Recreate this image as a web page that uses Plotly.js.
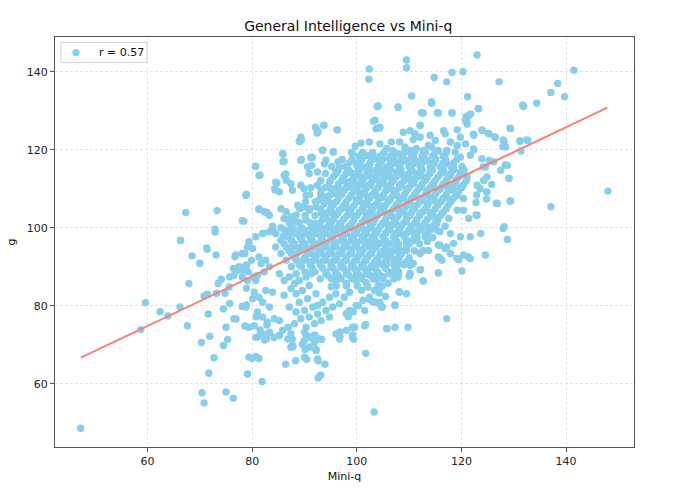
<!DOCTYPE html>
<html>
<head>
<meta charset="utf-8">
<script src="https://cdn.plot.ly/plotly-3.0.1.min.js"></script>
<style>html,body{margin:0;padding:0;background:#fff;}#chart{width:680px;height:489px;}</style>
</head>
<body>
<div id="chart"></div>
<script>
// [Mini-q, g] pairs, grouped by region
const leftRegion = [
[67.3,103.9],[73.3,104.4],[66.3,96.8],[72.9,99.6],[72.9,98.9],[78.4,101.7],[78.9,108.6],[80.7,115.8],[81.5,113.5],[81.3,104.7],[82.8,103.9],[71.3,94.8],[82.1,98.6],[84.0,99.4],
[47.2,48.6],[58.7,73.9],[59.6,80.8],[62.4,78.5],[63.9,77.4],[66.2,79.7],[66.3,96.7],[67.6,74.9],[67.9,85.7],[68.5,92.8],[70.0,90.9],[71.4,94.5],[73.1,93.0],[70.3,70.6],[71.9,72.2],[71.6,77.9],[70.8,82.5],[71.4,83.0],[72.7,66.7],[71.7,62.7],[70.4,57.7],[70.8,55.1],[75.0,57.9],[76.4,56.3],[75.0,74.5],[75.3,71.4],[74.5,69.8],[74.5,79.2],[75.7,80.6],[73.2,83.2],[74.8,83.2],[73.5,85.7],[74.1,86.8],[75.7,87.4],[76.7,92.6],[77.1,89.0],[76.4,89.6],[78.6,93.4],[78.0,89.3],[79.0,90.4],[79.9,91.7],[79.2,88.7],[80.2,87.4],[76.9,76.6],[78.9,84.5],[78.9,80.2],[78.6,74.8],[80.0,66.5],[81.3,66.5],[79.1,62.5],[81.9,60.6],[80.8,77.2],[81.5,73.8],[82.8,75.1],[82.8,71.6],[82.4,71.2],[81.1,72.1]
];
const lowerRegion = [
[86.4,65.0],[88.3,65.9],[87.8,69.5],[87.7,71.4],[86.9,74.5],[90.4,66.3],[92.6,65.9],[93.9,65.0],[92.2,68.8],[93.3,71.4],[90.1,68.8],[92.6,61.5],[93.1,62.2],[91.4,72.1],[92.0,72.5],[90.3,72.5],[89.9,70.9],
[75.6,84.8],[76.9,93.0],[78.1,93.4],[77.5,90.0],[78.5,89.1],[76.5,87.8],[78.1,87.4],[79.1,86.5],[78.8,90.4],[76.5,76.7],[78.8,79.7],[78.1,79.8],
[79.4,96.4],[79.1,95.1],[80.1,94.7],[80.7,97.7],[82.0,98.5],[83.3,99.0],
[81.3,92.5],[81.7,90.8],[82.6,91.7],[83.3,90.0],[82.3,88.7],[80.7,86.5],[81.0,87.8],
[80.4,83.5],[80.1,81.8],[81.3,82.2],[82.6,83.9],[83.9,83.5],[82.0,80.9],[83.3,79.7],[81.0,78.4],[82.0,77.1],[82.9,75.8],[84.2,76.7],[85.2,76.2],[80.4,74.9],[79.4,74.5],[80.7,71.9],[82.0,72.8],[83.3,73.2],[84.2,71.9],[85.8,73.7],[87.4,72.8],[86.8,71.5],[87.7,69.8],[85.2,72.4],
[85.2,88.2],[86.1,86.5],[87.1,87.4],[88.1,85.7],[89.0,86.5],[90.3,87.4],[87.4,84.4],[88.4,83.1],[89.6,83.9],[90.9,85.2],[86.1,82.7],[89.0,80.9],[90.6,81.8],[92.2,83.1],[87.1,79.7],[88.4,78.4],[90.0,78.8],[91.6,79.7],[90.9,77.1],[89.3,76.7],[92.5,77.9],[88.1,75.4],[90.3,74.5],[91.9,75.4],[93.2,76.2],[94.8,77.1],[94.1,78.8],[95.4,79.7],[96.7,80.5],[97.6,82.2],[98.6,83.5],[96.0,83.1],[94.8,82.2],[93.5,80.9],[92.5,80.1],
[90.0,73.2],[90.9,71.9],[91.9,70.6],[92.8,71.5],[89.6,70.2],[90.9,69.4],[92.2,68.5],[87.4,69.4],[90.0,66.8],[92.5,66.4],[96.0,72.8],[96.7,71.5],[98.0,73.7],[99.2,71.9],[99.6,74.5],[101.5,74.9],[101.5,78.8],[98.6,78.8],[99.9,80.1],[101.2,81.4],[102.4,82.2],[103.7,80.9],[102.1,84.8],[103.4,83.9],[79.4,66.8],[80.7,67.0],
[103.3,52.8],[101.7,67.8],[105.7,74.2],[99.4,71.4],[99.2,72.5],[99.2,74.5],[101.7,75.2],[98.0,78.0],[99.3,78.5],[98.4,77.2],[100.3,80.0],[107.3,80.2],[104.9,79.7],[104.3,80.6],[103.1,81.0],[102.5,81.6],[108.1,83.6],[96.8,72.1],[96.8,73.3]
];
const upperLeftRegion = [
[93.7,126.3],[92.2,125.6],[92.6,124.6],[96.3,125.1],[89.4,122.5],[89.1,122.1],[85.9,118.9],[86.1,117.0],[89.4,117.5],[91.5,118.0],[93.5,119.9],[95.5,119.5],[84.7,111.5],[86.4,113.8],[84.4,109.7],
[103.9,131.1],[103.2,127.3],[103.7,125.4],[92.1,125.8],[93.7,126.2],[92.4,124.3],[96.2,125.1],[89.3,123.2],[89.0,122.2],[99.7,120.9],[100.8,121.7],[102.4,122.0],[93.4,119.8],[95.5,119.4],[85.8,119.0],[85.9,117.0],[89.3,117.3],[91.2,118.0],[91.4,116.0],[94.1,117.3],[93.8,116.4],[80.6,115.7],[81.3,113.4],[90.6,115.6],[90.9,113.9],[92.5,114.3],[96.4,116.9],[96.7,115.6],[96.0,114.3],[86.1,113.4],[86.5,112.2],[84.5,111.7],[84.3,110.0],[85.2,109.2],[87.4,111.3],[87.7,109.6],[89.3,110.9],[89.9,110.0],[90.3,108.3],[92.5,110.9],[93.2,109.6],[94.8,111.7],[95.1,110.0],[94.1,107.9],[92.8,107.1],[98.0,111.7],[97.3,109.6],[98.6,110.5],[96.0,108.8],[78.8,108.3],[81.3,104.9],[82.3,104.1],[83.3,103.2],[85.5,104.9],[86.5,104.1],[87.4,102.8],[88.4,103.2],[88.7,105.8],[89.9,105.4],[90.9,104.5],[92.2,105.4],[93.2,103.7],[93.8,106.2],[95.1,106.2],[95.4,103.7],[96.7,104.5],[98.0,105.4],[98.9,103.7],[99.9,107.1],[78.1,101.8],[83.9,100.4],[86.1,102.4],[88.4,101.5],[90.3,102.0],[92.2,101.1],[94.8,101.5],[96.7,101.1],
[99.2,119.0],[100.5,118.1],[101.8,118.6],[103.1,119.0],[104.0,117.7],[99.9,116.4],[101.2,115.6],[102.4,116.0],[103.7,114.7],[99.2,113.9],[100.8,113.0],[102.4,113.4],[104.0,112.2],[99.9,111.3],[101.5,110.5],[102.7,110.9],[100.5,108.8],[102.1,107.9],[103.7,108.3],[101.2,106.2],[102.7,105.4],[104.0,106.2],[101.8,103.7],[103.4,103.2],[102.4,101.5]
];
const upperRightRegion = [
[107.9,130.9],[114.3,131.9],[112.7,129.4],[115.6,129.4],[118.2,129.4],[123.3,130.5],[121.4,128.8],[120.8,127.5],[121.1,126.6],[131.9,131.1],[104.4,125.8],[112.1,126.2],[116.6,124.9],[116.9,124.1],[119.2,125.1],[119.8,123.2],[122.4,123.7],[124.0,124.9],[125.3,124.1],[126.5,123.2],[129.4,125.4],[128.2,122.0],[128.5,120.7],[131.2,122.2],[132.7,122.4],[108.9,124.5],[110.2,124.9],[111.1,124.1],[110.8,122.6],[112.1,123.2],[108.2,122.0],[106.6,122.0],[114.0,123.7],[115.0,122.4],[113.7,121.1],[117.9,122.0],[119.2,121.1],[120.8,121.5],[122.4,120.0],
[104.4,121.5],[105.7,120.3],[106.9,119.8],[105.0,118.1],[106.3,117.7],[107.9,119.0],[109.2,120.7],[110.2,119.8],[111.4,120.3],[112.7,119.8],[114.3,120.7],[115.6,119.8],[117.2,119.8],[118.8,119.4],[119.8,118.1],[121.7,118.6],
[123.9,117.7],[125.3,117.3],[126.2,116.9],[124.6,115.6],[128.8,116.0],[129.1,112.6],[127.5,114.7],[124.9,113.0],[124.3,112.2],[123.0,110.9],[123.6,110.0],[124.9,109.2],[126.9,106.2],[129.4,106.9],[123.0,103.2],[120.4,104.5],[121.4,102.4],[128.2,100.3],
[104.4,117.3],[105.7,115.6],[106.9,116.4],[108.2,116.9],[109.5,117.3],[110.8,116.4],[112.1,116.9],[113.4,117.3],[114.7,116.4],[116.0,115.6],[117.2,116.4],[118.5,115.6],
[105.0,113.9],[106.3,113.0],[107.6,114.3],[108.9,113.4],[110.2,112.6],[111.4,113.9],[112.7,113.0],[114.0,114.3],[116.6,114.3],[117.9,113.4],[119.8,114.3],[121.1,113.0],
[104.4,111.3],[105.7,110.5],[106.9,109.6],[108.2,110.9],[109.5,110.0],[110.8,111.3],[112.1,110.5],[113.4,109.6],[114.7,110.9],[116.0,110.0],[117.2,110.9],[118.5,109.6],[119.8,110.5],
[105.0,107.9],[106.3,107.1],[107.6,108.3],[108.9,107.5],[110.2,106.6],[111.4,107.9],[112.7,107.1],[114.0,107.9],[115.3,106.6],[116.6,107.5],[117.9,107.1],[119.2,108.3],[120.4,107.5],
[104.4,105.4],[105.7,103.7],[106.9,102.8],[108.2,104.5],[109.5,103.2],[110.8,104.9],[112.1,103.7],[113.4,104.5],[114.7,102.8],[116.3,103.7],[117.6,102.4],[119.2,104.5],
[105.7,101.1],[107.6,100.7],[109.5,101.5],[111.4,100.9],[113.4,100.3],[115.3,101.1],[116.9,100.4]
];
const outerRightRegion = [
[123.0,144.3],[109.5,143.0],[109.5,141.0],[102.4,140.7],[102.3,138.1],[141.5,140.4],[138.4,137.0],[137.1,134.7],[139.7,133.6],[114.8,138.5],[117.2,137.4],[118.2,139.8],[120.3,140.0],[127.2,137.4],[110.5,133.8],[114.3,132.3],[115.4,129.5],[118.2,129.5],[121.2,133.6],[123.2,130.6],[121.8,129.2],[120.9,128.5],[121.0,127.2],[131.7,131.4],[134.4,131.9],[104.1,131.2],[107.9,131.0],[112.4,129.5],[103.5,127.6],[104.4,125.6],[112.1,126.3],[129.3,125.5],[123.9,125.1],[125.1,124.2],[126.4,123.3],[122.3,124.0],[128.0,122.5],[127.9,120.8],[131.2,122.3],[132.5,122.5],[131.4,119.7],[128.4,116.1],[129.1,112.7],[129.3,106.8],[126.7,106.3],[124.3,112.1],[125.8,111.1],[124.8,109.2],[124.8,107.4],[122.8,106.5],[122.9,108.4],[122.8,103.3],[128.0,99.8],[137.1,105.4],[148.0,109.4],[122.3,120.2],[124.2,115.6]
];
const centralRegion = [
[84.5,98.5],[86.5,98.5],[88.4,98.5],[90.3,98.5],[92.2,98.5],[94.1,98.5],[96.0,98.5],[98.0,98.5],[99.9,98.5],[101.8,98.5],[103.7,98.5],
[85.5,96.8],[87.5,96.8],[89.4,96.8],[91.3,96.8],[93.2,96.8],[95.1,96.8],[97.0,96.8],[99.0,96.8],[100.9,96.8],[102.8,96.8],
[84.5,95.1],[86.5,95.1],[88.4,95.1],[90.3,95.1],[92.2,95.1],[94.1,95.1],[96.0,95.1],[98.0,95.1],[99.9,95.1],[101.8,95.1],[103.7,95.1],
[85.5,93.4],[87.5,93.4],[91.3,93.4],[93.2,93.4],[95.1,93.4],[97.0,93.4],[99.0,93.4],[100.9,93.4],[102.8,93.4],
[86.5,91.7],[88.4,91.7],[90.3,91.7],[92.2,91.7],[94.1,91.7],[96.0,91.7],[98.0,91.7],[99.9,91.7],[101.8,91.7],[103.7,91.7],
[87.5,90.0],[89.4,90.0],[91.3,90.0],[95.1,90.0],[97.0,90.0],[99.0,90.0],[100.9,90.0],[102.8,90.0],
[88.4,88.2],[91.3,88.2],[94.1,88.2],[96.0,88.2],[98.0,88.2],[99.9,88.2],[101.8,88.2],[103.7,88.2],
[96.0,86.5],[98.0,85.7],[99.9,86.5],[101.8,85.9],[103.7,86.8],[95.1,84.9],[100.9,84.0],
[85.5,100.0],[87.5,100.0],[89.4,100.0],[91.3,100.0],[93.2,100.0],[95.1,100.0],[97.0,100.0],[99.0,100.0],[100.9,100.0],[102.8,100.0]
];
const lowerRightRegion = [
[128.8,97.0],[124.6,93.0],[120.1,88.9],[121.7,92.1],[120.4,93.0],[119.5,91.8],[115.6,88.4],[117.2,76.7],[117.9,93.4],[116.9,94.7],[115.9,95.5],[115.6,92.5],[116.3,91.7],[112.7,94.2],[113.7,94.2],[112.1,93.4],[112.2,89.3],[112.7,86.3],[110.2,88.2],[110.0,87.6],[110.8,90.8],[110.2,91.2],[108.2,83.5],[109.5,83.1],[107.3,80.1],[104.7,79.7],[104.4,80.9],[105.8,74.1],[107.3,74.5],[109.8,74.5],[107.9,87.8],[106.9,88.7],[108.2,90.8],[107.6,89.5],[106.3,88.2],[105.0,87.4],[105.7,90.8],[104.4,90.8],
[121.7,97.7],[123.7,98.5],[119.8,97.7],[117.9,98.5],[115.9,99.0],[115.3,99.4],[113.1,98.4],[110.8,99.0],[108.2,98.5],[106.3,99.4],[105.0,97.7],[107.6,96.0],[109.5,96.0],[106.9,94.2],[105.7,94.2],[108.2,93.4],[109.5,94.2],[110.8,96.8],
[104.4,96.0],[105.7,92.5],[107.0,92.0],[104.5,93.5],[111.5,97.5],[113.5,96.5],[114.5,97.5],[118.5,96.0],[104.8,85.0],[106.0,85.8],[104.3,83.3],[105.5,82.4],[104.4,85.2],
[115.6,95.6],[117.2,95.1],[115.9,92.2],[119.1,92.2],[121.3,92.6],[115.6,88.5],[112.1,89.2],[110.2,88.3],[105.0,87.4],[112.7,86.4],[107.9,87.3],[109.5,91.3],[110.2,90.4],[107.6,90.9],
[103.1,95.1],[106.3,96.0],[108.2,94.3],[100.6,94.3]
];
// the solid core of the cloud, read row by row (g, then the Mini-q values along that row)
const coreRows = [
[119.3, [99.0,101.1,103.0,105.2,107.0,109.1,111.0,113.1,115.0,117.1]],
[117.5, [97.2,99.1,101.0,103.1,105.0,107.1,109.0,111.1,113.0,115.1,117.0,119.1]],
[115.7, [95.2,97.8,100.1,102.0,104.1,106.0,108.1,110.0,112.1,114.0,116.1,118.0,120.1]],
[113.9, [94.0,96.1,98.0,100.1,102.0,104.1,106.0,108.1,110.0,112.1,114.0,116.1,118.0,120.1]],
[112.1, [93.1,95.0,97.1,99.0,101.1,103.0,105.1,107.0,109.1,111.0,113.1,115.0,117.1,119.0,121.0]],
[110.3, [91.2,94.0,96.1,98.0,100.1,102.0,104.1,106.0,108.1,110.0,112.1,114.0,116.1,118.0,120.1]],
[108.5, [91.0,93.1,95.0,97.1,99.0,101.1,103.0,105.1,107.0,109.1,111.0,113.1,115.0,117.1,119.0]],
[106.7, [90.2,92.1,94.0,96.1,98.0,100.1,102.0,104.1,106.0,108.1,110.0,112.1,114.0,116.1,118.0]],
[104.9, [89.1,91.0,93.1,95.0,97.1,99.0,101.1,103.0,105.1,107.0,109.1,111.0,113.1,115.0,117.1]],
[103.1, [88.2,90.1,92.0,94.1,96.0,98.1,100.0,102.1,104.0,106.1,108.0,110.1,112.0,114.1,116.0]],
[101.3, [87.1,89.0,91.1,93.0,95.1,97.0,99.1,101.0,103.1,105.0,107.1,109.0,111.1,113.0,115.1]],
[99.5,  [86.2,88.1,90.0,92.1,94.0,96.1,98.0,100.1,102.0,104.1,106.0,108.1,110.0,112.1,114.0]],
[97.7,  [85.9,87.0,89.1,91.0,93.1,95.0,97.1,99.0,101.1,103.0,105.1,107.0,109.1,111.0,113.1]],
[95.9,  [86.1,88.0,90.1,92.0,94.1,96.0,98.1,100.0,102.1,104.0,106.1,108.0,110.1,112.0]],
[94.1,  [87.0,89.1,91.0,93.1,95.0,97.1,99.0,101.1,103.0,105.1,107.0,109.1,111.0]],
[92.3,  [88.1,90.0,92.1,94.0,96.1,98.0,100.1,102.0,104.1,106.0,108.1,110.0]],
[90.5,  [89.0,91.1,93.0,95.1,97.0,99.1,101.0,103.1,105.0,107.1,109.0]],
[88.7,  [90.1,92.0,94.1,96.0,98.1,100.0,102.1,104.0,106.1,108.0]],
[86.9,  [93.0,95.1,97.0,99.1,101.0,103.1,105.0,107.1]],
[85.1,  [96.1,98.0,100.1,102.0,104.1]]
];
// the most crowded band of the core, between the rows above
const denseRows = [
[118.4, [100.5,102.5,104.5,106.5,108.5,110.5,112.5,114.5,116.5]],
[116.6, [98.5,100.5,102.5,104.5,106.5,108.5,110.5,112.5,114.5,116.5,118.5]],
[114.8, [96.5,98.5,100.5,102.5,104.5,106.5,108.5,110.5,112.5,114.5,116.5,118.5,120.5]],
[113.0, [95.5,97.5,99.5,101.5,103.5,105.5,107.5,109.5,111.5,113.5,115.5,117.5,119.5]],
[111.2, [96.5,98.5,100.5,102.5,104.5,106.5,108.5,110.5,112.5,114.5,116.5,118.5,120.5]],
[109.4, [95.5,97.5,99.5,101.5,103.5,105.5,107.5,109.5,111.5,113.5,115.5,117.5,119.5]],
[107.6, [94.5,96.5,98.5,100.5,102.5,104.5,106.5,108.5,110.5,112.5,114.5,116.5,118.5]],
[105.8, [95.5,97.5,99.5,101.5,103.5,105.5,107.5,109.5,111.5,113.5,115.5,117.5]],
[104.0, [94.5,96.5,98.5,100.5,102.5,104.5,106.5,108.5,110.5,112.5,114.5,116.5]],
[102.2, [93.5,95.5,97.5,99.5,101.5,103.5,105.5,107.5,109.5,111.5,113.5,115.5]],
[100.4, [92.5,94.5,96.5,98.5,100.5,102.5,104.5,106.5,108.5,110.5,112.5,114.5]],
[98.6,  [87.5,89.5,91.5,93.5,95.5,97.5,99.5,101.5,103.5,105.5,107.5,109.5,111.5,113.5]],
[96.8,  [87.5,89.5,91.5,93.5,95.5,97.5,99.5,101.5,103.5,105.5,107.5,109.5,111.5]],
[95.0,  [87.5,89.5,91.5,93.5,95.5,97.5,99.5,101.5,103.5,105.5,107.5,109.5]],
[93.2,  [88.5,90.5,92.5,94.5,96.5,98.5,100.5,102.5,104.5,106.5,108.5]],
[91.4,  [89.5,91.5,93.5,95.5,97.5,99.5,101.5,103.5,105.5,107.5]],
[89.6,  [91.5,93.5,95.5,97.5,99.5,101.5,103.5,105.5]],
[87.8,  [94.5,96.5,98.5,100.5,102.5,104.5]]
];
// fitted regression line end points
const fitMiniQ = [47.25, 147.9];
const fitG = [66.7, 130.8];
const legendLabel = 'r = 0.57';
const xTicks = [60, 80, 100, 120, 140];
const yTicks = [60, 80, 100, 120, 140];

const rowPoints = [];
coreRows.concat(denseRows).forEach(([g, xs]) => xs.forEach(x => rowPoints.push([x, g])));
const allPoints = [].concat(leftRegion, lowerRegion, upperLeftRegion, upperRightRegion, outerRightRegion, centralRegion, lowerRightRegion, rowPoints);
const miniQ = allPoints.map(p => p[0]);
const gScore = allPoints.map(p => p[1]);

const font = 'DejaVu Sans, Verdana, sans-serif';
const traces = [
  {x: miniQ, y: gScore, type: 'scatter', mode: 'markers', name: legendLabel, showlegend: false,
   marker: {color: '#87CEEB', size: 7.4, line: {width: 0}}},
  {x: fitMiniQ, y: fitG, type: 'scatter', mode: 'lines', showlegend: false,
   line: {color: '#FA8072', width: 2}}
];
const axisCommon = {
  showgrid: true, gridcolor: '#dcdcdc', griddash: '3px,2px', gridwidth: 0.8,
  zeroline: false, showline: true, mirror: true, linecolor: '#555', linewidth: 1,
  ticks: 'outside', ticklen: 4, tickcolor: '#555', tickwidth: 1,
  tickfont: {family: font, size: 11, color: '#222'}
};
// legend box drawn in the corner of the plot area (paper coordinates)
const L = {x0: 6/579, x1: 92/579, y0: 1 - 25.5/410, y1: 1 - 5.5/410, mx: 21/579, my: 1 - 15.7/410, tx: 41.5/579};
const layout = {
  width: 680, height: 489,
  margin: {l: 55, r: 46, t: 37, b: 42, pad: 0},
  paper_bgcolor: '#fff', plot_bgcolor: '#fff',
  title: {text: 'General Intelligence vs Mini-q', font: {family: font, size: 14, color: '#111'},
          x: 0.5065, xref: 'paper', y: 1 - 26/489, yref: 'container', yanchor: 'middle'},
  xaxis: Object.assign({}, axisCommon, {range: [42.3, 153], tickvals: xTicks,
          title: {text: 'Mini-q', font: {family: font, size: 11, color: '#111'}, standoff: 5}}),
  yaxis: Object.assign({}, axisCommon, {range: [43.8, 148.9], tickvals: yTicks,
          title: {text: 'g', font: {family: font, size: 11, color: '#111'}, standoff: 8}}),
  showlegend: false,
  shapes: [
    {type: 'rect', xref: 'paper', yref: 'paper', x0: L.x0, x1: L.x1, y0: L.y0, y1: L.y1,
     line: {color: '#d0d0d0', width: 1}, fillcolor: 'rgba(255,255,255,0.85)', layer: 'above'},
    {type: 'circle', xref: 'paper', yref: 'paper', xsizemode: 'pixel', ysizemode: 'pixel',
     xanchor: L.mx, yanchor: L.my, x0: -3.6, x1: 3.6, y0: -3.6, y1: 3.6,
     line: {width: 0}, fillcolor: '#87CEEB', layer: 'above'}
  ],
  annotations: [
    {text: legendLabel, xref: 'paper', yref: 'paper', x: L.tx, y: L.my, xanchor: 'left', yanchor: 'middle',
     showarrow: false, font: {family: font, size: 11, color: '#111'}}
  ]
};
Plotly.newPlot('chart', traces, layout, {displayModeBar: false, staticPlot: true});
</script>
</body>
</html>
